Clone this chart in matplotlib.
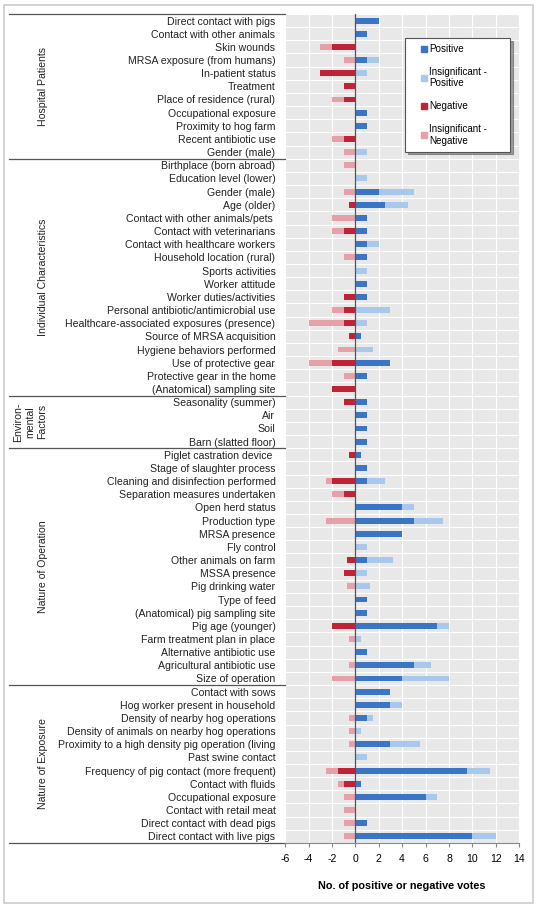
import numpy as np
import matplotlib.pyplot as plt
from matplotlib.patches import Rectangle
from matplotlib.lines import Line2D

plt.rcParams['font.family'] = ['Liberation Sans', 'DejaVu Sans']
plt.rcParams['axes.unicode_minus'] = False

# groups (name, number of rows)
groups = ['Hospital Patients', 'Individual Characteristics', 'Environ-\nmental\nFactors',
          'Nature of Operation', 'Nature of Exposure']
group_sizes = [11, 18, 4, 18, 12]

labels = [
    # Hospital Patients
    'Direct contact with pigs', 'Contact with other animals', 'Skin wounds',
    'MRSA exposure (from humans)', 'In-patient status', 'Treatment',
    'Place of residence (rural)', 'Occupational exposure', 'Proximity to hog farm',
    'Recent antibiotic use', 'Gender (male)',
    # Individual Characteristics
    'Birthplace (born abroad)', 'Education level (lower)', 'Gender (male)', 'Age (older)',
    'Contact with other animals/pets ', 'Contact with veterinarians',
    'Contact with healthcare workers', 'Household location (rural)', 'Sports activities',
    'Worker attitude', 'Worker duties/activities', 'Personal antibiotic/antimicrobial use',
    'Healthcare-associated exposures (presence)', 'Source of MRSA acquisition',
    'Hygiene behaviors performed', 'Use of protective gear', 'Protective gear in the home',
    '(Anatomical) sampling site',
    # Environmental Factors
    'Seasonality (summer)', 'Air', 'Soil', 'Barn (slatted floor)',
    # Nature of Operation
    'Piglet castration device ', 'Stage of slaughter process',
    'Cleaning and disinfection performed', 'Separation measures undertaken',
    'Open herd status', 'Production type', 'MRSA presence', 'Fly control',
    'Other animals on farm', 'MSSA presence', 'Pig drinking water', 'Type of feed',
    '(Anatomical) pig sampling site', 'Pig age (younger)', 'Farm treatment plan in place',
    'Alternative antibiotic use', 'Agricultural antibiotic use', 'Size of operation',
    # Nature of Exposure
    'Contact with sows', 'Hog worker present in household', 'Density of nearby hog operations',
    'Density of animals on nearby hog operations',
    'Proximity to a high density pig operation (living', 'Past swine contact',
    'Frequency of pig contact (more frequent)', 'Contact with fluids', 'Occupational exposure',
    'Contact with retail meat', 'Direct contact with dead pigs', 'Direct contact with live pigs',
]

positive = [
    2, 1, 0, 1, 0, 0, 0, 1, 1, 0, 0,
    0, 0, 2, 2.5, 1, 1, 1, 1, 0, 1, 1, 0, 0, 0.5, 0, 3, 1, 0,
    1, 1, 1, 1,
    0.5, 1, 1, 0, 4, 5, 4, 0, 1, 0, 0, 1, 1, 7, 0, 1, 5, 4,
    3, 3, 1, 0, 3, 0, 9.5, 0.5, 6, 0, 1, 10,
]
insig_positive = [
    0, 0, 0, 1, 1, 0, 0, 0, 0, 0, 1,
    0, 1, 3, 2, 0, 0, 1, 0, 1, 0, 0, 3, 1, 0, 1.5, 0, 0, 0,
    0, 0, 0, 0,
    0, 0, 1.5, 0, 1, 2.5, 0, 1, 2.25, 1, 1.25, 0, 0, 1, 0.5, 0, 1.5, 4,
    0, 1, 0.5, 0.5, 2.5, 1, 2, 0, 1, 0, 0, 2,
]
negative = [
    0, 0, 2, 0, 3, 1, 1, 0, 0, 1, 0,
    0, 0, 0, 0.5, 0, 1, 0, 0, 0, 0, 1, 1, 1, 0.5, 0, 2, 0, 2,
    1, 0, 0, 0,
    0.5, 0, 2, 1, 0, 0, 0, 0, 0.75, 1, 0, 0, 0, 2, 0, 0, 0, 0,
    0, 0, 0, 0, 0, 0, 1.5, 1, 0, 0, 0, 0,
]
insig_negative = [
    0, 0, 1, 1, 0, 0, 1, 0, 0, 1, 1,
    1, 0, 1, 0, 2, 1, 0, 1, 0, 0, 0, 1, 3, 0, 1.5, 2, 1, 0,
    0, 0, 0, 0,
    0, 0, 0.5, 1, 0, 2.5, 0, 0, 0, 0, 0.75, 0, 0, 0, 0.5, 0, 0.5, 2,
    0, 0, 0.5, 0.5, 0.5, 0, 1, 0.5, 1, 1, 1, 1,
]

c_pos = '#3b76c6'
c_ipos = '#a9c9ec'
c_neg = '#bf2436'
c_ineg = '#e5a0a9'

pos = np.array(positive)
ipos = np.array(insig_positive)
neg = np.array(negative)
ineg = np.array(insig_negative)
y = np.arange(len(labels))

fig = plt.figure(figsize=(5.38, 9.07), dpi=100)
ax = fig.add_axes([0.530, 0.0706, 0.435, 0.914])
ax.set_facecolor('#e8e8e8')

h = 0.45
ax.barh(y, pos, height=h, color=c_pos, zorder=3)
ax.barh(y, ipos, left=pos, height=h, color=c_ipos, zorder=3)
ax.barh(y, -neg, height=h, color=c_neg, zorder=3)
ax.barh(y, -ineg, left=-neg, height=h, color=c_ineg, zorder=3)
ax.axvline(0, color='#555555', lw=0.9, zorder=4)

ax.set_xlim(-6, 14)
ax.set_ylim(len(labels) - 0.5, -0.5)
ax.set_xticks(np.arange(-6, 15, 2))
ax.set_yticks(y)
ax.set_yticklabels(labels, fontsize=7.6, color='#222222')
ax.set_yticks(np.arange(-0.5, len(labels), 1), minor=True)
ax.tick_params(axis='y', which='both', length=0, pad=7)
ax.tick_params(axis='x', labelsize=7.6, length=3, color='#888888', pad=5)
ax.grid(axis='x', which='major', color='white', lw=0.8, zorder=1)
ax.grid(axis='y', which='minor', color='white', lw=0.8, zorder=1)
for s in ['top', 'right', 'left']:
    ax.spines[s].set_visible(False)
ax.spines['bottom'].set_color('#888888')
ax.set_xlabel('No. of positive or negative votes', fontsize=7.8, fontweight='bold', labelpad=12)

# group separators and labels
tr = ax.get_yaxis_transform()
bounds = np.concatenate([[0], np.cumsum(group_sizes)]) - 0.5
for b in bounds:
    ax.plot([-1.18, 0], [b, b], transform=tr, color='#555555', lw=0.9, clip_on=False)
for g, lo, hi in zip(groups, bounds[:-1], bounds[1:]):
    xg = -1.035 if '\n' not in g else -1.09
    ax.text(xg, (lo + hi) / 2, g, transform=tr, rotation=90, fontsize=7.6,
            ha='center', va='center', linespacing=1.2, color='#222222')

handles = [Line2D([], [], ls='none', marker='s', markersize=4, color=c)
           for c in [c_pos, c_ipos, c_neg, c_ineg]]
leg = ax.legend(handles, ['Positive', 'Insignificant -\nPositive', 'Negative', 'Insignificant -\nNegative'],
                loc='upper left', bbox_to_anchor=(0.753, 0.958, 0.195, 0.0),
                bbox_transform=fig.transFigure, mode='expand', borderaxespad=0,
                fontsize=7.1, handlelength=2.6, handletextpad=-0.75,
                labelspacing=1.3, borderpad=0.6, fancybox=False, shadow=True,
                frameon=True, edgecolor='#555555')
leg.get_frame().set_linewidth(0.8)
leg.set_zorder(6)

fig.patches.append(Rectangle((0.008, 0.004), 0.982, 0.99, transform=fig.transFigure,
                             fill=False, edgecolor='#cccccc', lw=1.2))

fig.savefig('out.png', dpi=100)
